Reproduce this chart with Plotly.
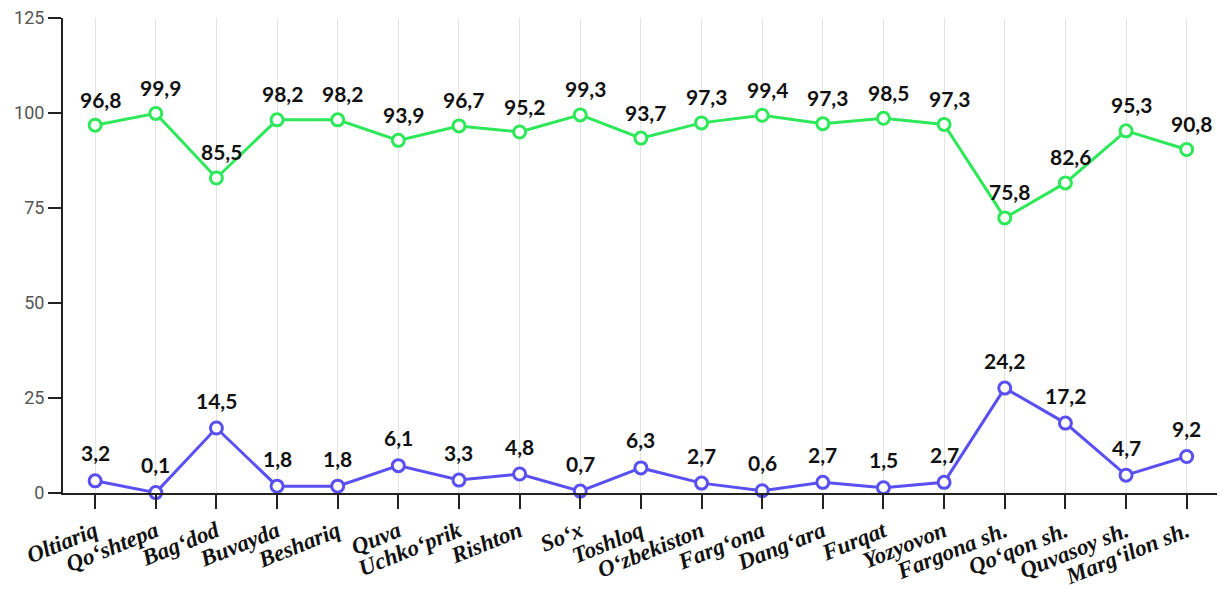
import plotly.graph_objects as go

categories = ["Oltiariq", "Qo‘shtepa", "Bag‘dod", "Buvayda", "Beshariq", "Quva",
              "Uchko‘prik", "Rishton", "So‘x", "Toshloq", "O‘zbekiston", "Farg‘ona",
              "Dang‘ara", "Furqat", "Yozyovon", "Fargona sh.", "Qo‘qon sh.",
              "Quvasoy sh.", "Marg‘ilon sh."]

# plotted positions
green_values = [96.8, 99.9, 82.9, 98.2, 98.2, 92.8, 96.6, 95.0, 99.5, 93.4,
                97.4, 99.4, 97.2, 98.6, 97.0, 72.4, 81.6, 95.3, 90.4]
blue_values = [3.2, 0.1, 17.1, 1.8, 1.8, 7.2, 3.4, 5.0, 0.5, 6.6,
               2.6, 0.6, 2.8, 1.4, 2.8, 27.6, 18.4, 4.7, 9.6]

# printed labels
green_labels = ["96,8", "99,9", "85,5", "98,2", "98,2", "93,9", "96,7", "95,2", "99,3", "93,7",
                "97,3", "99,4", "97,3", "98,5", "97,3", "75,8", "82,6", "95,3", "90,8"]
blue_labels = ["3,2", "0,1", "14,5", "1,8", "1,8", "6,1", "3,3", "4,8", "0,7", "6,3",
               "2,7", "0,6", "2,7", "1,5", "2,7", "24,2", "17,2", "4,7", "9,2"]

y_ticks = [0, 25, 50, 75, 100, 125]

GREEN = "#2ee85a"
BLUE = "#5a4ff0"

fig = go.Figure()
for vals, col in [(green_values, GREEN), (blue_values, BLUE)]:
    fig.add_trace(go.Scatter(
        x=categories, y=vals, mode="lines+markers",
        line=dict(color=col, width=3),
        marker=dict(size=12, color="white", line=dict(color=col, width=3)),
        showlegend=False, cliponaxis=False, hoverinfo="skip"))

annotations = []
for c, v, t in zip(categories, green_values, green_labels):
    annotations.append(dict(x=c, y=v, text="<b>" + t + "</b>", showarrow=False, yshift=26, xshift=5,
                            font=dict(family="Lato", size=21, color="#111111")))
for c, v, t in zip(categories, blue_values, blue_labels):
    annotations.append(dict(x=c, y=v, text="<b>" + t + "</b>", showarrow=False, yshift=28, xshift=0,
                            font=dict(family="Lato", size=21, color="#111111")))

fig.update_layout(
    width=1219, height=582,
    margin=dict(l=55, r=10, t=10, b=97),
    paper_bgcolor="white", plot_bgcolor="white",
    annotations=annotations,
    xaxis=dict(
        range=[-0.53, 18.5], automargin=False,
        showgrid=True, gridcolor="#e4e4e4", gridwidth=1,
        showline=True, linecolor="#222222", linewidth=2,
        ticks="outside", ticklen=14, tickwidth=2, tickcolor="#222222",
        tickangle=-22, ticklabelstandoff=0, ticklabeloverflow="allow",
        tickfont=dict(family="Liberation Serif", size=23, color="#111111"),
        zeroline=False,
    ),
    yaxis=dict(
        range=[0, 125], tickvals=y_ticks, automargin=False,
        showgrid=False, zeroline=False, ticklabeloverflow="allow",
        showline=True, linecolor="#222222", linewidth=2,
        ticks="outside", ticklen=13, tickwidth=2, tickcolor="#222222",
        tickfont=dict(family="Roboto", size=18, color="#555555"),
    ),
)

fig.update_xaxes(tickprefix="<b><i>", ticksuffix="</i></b>")

fig.write_html("out.html")
